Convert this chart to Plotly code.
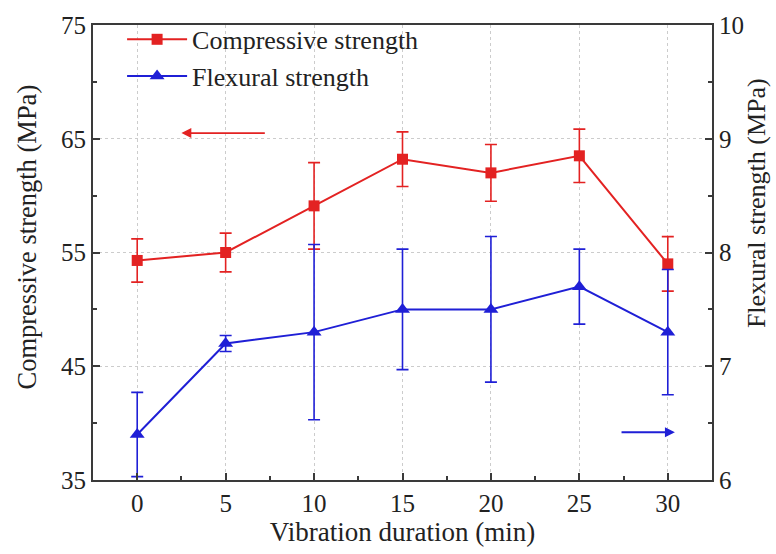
import plotly.graph_objects as go

duration = [0, 5, 10, 15, 20, 25, 30]
compressive = [54.3, 55.0, 59.1, 63.2, 62.0, 63.5, 54.0]
compressive_err = [1.9, 1.7, 3.8, 2.4, 2.5, 2.35, 2.4]
flexural = [6.4, 7.2, 7.3, 7.5, 7.5, 7.7, 7.3]
flexural_err = [0.37, 0.07, 0.77, 0.53, 0.64, 0.33, 0.55]

RED = "#e32222"
BLUE = "#1f1fd6"
AX = "#3a3a3a"
FONT = "Liberation Serif"

fig = go.Figure()
fig.add_trace(go.Scatter(
    x=duration, y=compressive, name="Compressive strength",
    mode="lines+markers",
    line=dict(color=RED, width=2),
    marker=dict(symbol="square", size=11, color=RED),
    error_y=dict(type="data", array=compressive_err, visible=True,
                 color=RED, thickness=1.6, width=6),
    yaxis="y",
))
fig.add_trace(go.Scatter(
    x=duration, y=flexural, name="Flexural strength",
    mode="lines+markers",
    line=dict(color=BLUE, width=2),
    marker=dict(symbol="triangle-up", size=13, color=BLUE),
    error_y=dict(type="data", array=flexural_err, visible=True,
                 color=BLUE, thickness=1.6, width=6),
    yaxis="y2",
))

fig.add_annotation(x=2.5, y=65.5, ax=7.3, ay=65.5, xref="x", yref="y",
                   axref="x", ayref="y", showarrow=True, arrowhead=2,
                   arrowsize=1.1, arrowwidth=1.8, arrowcolor=RED, text="")
fig.add_annotation(x=30.4, y=6.42, ax=27.3, ay=6.42, xref="x", yref="y2",
                   axref="x", ayref="y2", showarrow=True, arrowhead=2,
                   arrowsize=1.1, arrowwidth=1.8, arrowcolor=BLUE, text="")

# axis titles placed as annotations to match the reference positions
fig.add_annotation(text="Compressive strength (MPa)", xref="paper", yref="paper",
                   x=-0.1066, y=0.533, textangle=-90, showarrow=False,
                   xanchor="center", yanchor="middle",
                   font=dict(family=FONT, size=26.5, color="#222"))
fig.add_annotation(text="Flexural strength (MPa)", xref="paper", yref="paper",
                   x=1.073, y=0.609, textangle=-90, showarrow=False,
                   xanchor="center", yanchor="middle",
                   font=dict(family=FONT, size=26, color="#222"))

fig.update_layout(
    width=776, height=554,
    margin=dict(l=93, r=64, t=22, b=74),
    paper_bgcolor="white", plot_bgcolor="white",
    font=dict(family=FONT, size=25, color="#222"),
    showlegend=True,
    legend=dict(x=0.047, y=1.02, xanchor="left", yanchor="top",
                bgcolor="rgba(0,0,0,0)", font=dict(family=FONT, size=26, color="#222"),
                itemwidth=60, tracegroupgap=0),
    xaxis=dict(
        range=[-2.5, 32.5], tickvals=duration, ticks="inside", ticklen=7,
        tickwidth=1.5, tickcolor=AX, showline=True, linecolor=AX, linewidth=2,
        mirror=True, showgrid=True, gridcolor="#cccccc", griddash="dot", gridwidth=1,
        zeroline=False,
        minor=dict(ticks="inside", ticklen=4, dtick=2.5, tick0=0, tickcolor=AX, showgrid=False),
        title=dict(text="Vibration duration (min)", font=dict(family=FONT, size=27), standoff=4),
        tickfont=dict(family=FONT, size=25),
    ),
    yaxis=dict(
        range=[35, 75], dtick=10, tick0=35, ticks="inside", ticklen=7,
        tickwidth=1.5, tickcolor=AX, showline=True, linecolor=AX, linewidth=2,
        showgrid=True, gridcolor="#cccccc", griddash="dot", gridwidth=1, zeroline=False,
        minor=dict(ticks="inside", ticklen=4, dtick=5, tick0=35, tickcolor=AX, showgrid=False),
        tickfont=dict(family=FONT, size=25),
    ),
    yaxis2=dict(
        range=[6, 10], dtick=1, tick0=6, overlaying="y", side="right",
        ticks="inside", ticklen=7, tickwidth=1.5, tickcolor=AX,
        showline=True, linecolor=AX, linewidth=2, showgrid=False, zeroline=False,
        minor=dict(ticks="inside", ticklen=4, dtick=0.5, tick0=6, tickcolor=AX, showgrid=False),
        tickfont=dict(family=FONT, size=25),
    ),
)

fig.write_html("out.html")
